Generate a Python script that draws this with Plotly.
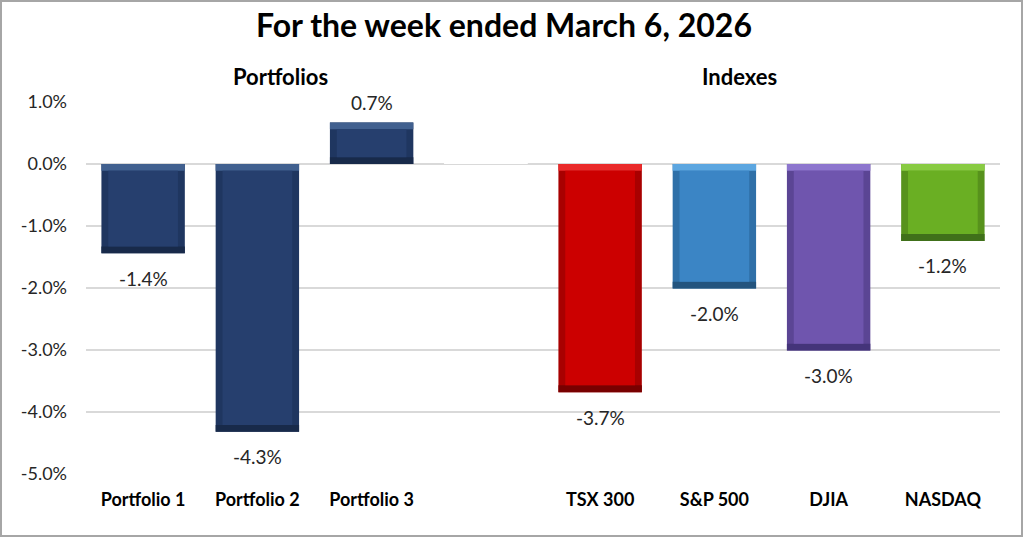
import numpy as np
import plotly.graph_objects as go

# weekly returns (%), blank slot separates the two groups
categories = ["Portfolio 1", "Portfolio 2", "Portfolio 3", " ", "TSX 300", "S&P 500", "DJIA", "NASDAQ"]
returns = [-1.44, -4.32, 0.67, None, -3.68, -2.01, -3.01, -1.24]
y_ticks = [1, 0, -1, -2, -3, -4, -5]

# bar face colours plus bevel shades (top / bottom / sides)
face_colors = ["#263F6E", "#263F6E", "#263F6E", "#FFFFFF", "#CC0000", "#3B85C5", "#6F55AE", "#6AAF23"]
top_colors = ["#41608F", "#41608F", "#41608F", "#FFFFFF", "#EA2A2A", "#5CA6E0", "#8D76CE", "#88CB42"]
bottom_colors = ["#182A4A", "#182A4A", "#182A4A", "#FFFFFF", "#780000", "#23547E", "#44347A", "#40701A"]
side_colors = ["#1F3660", "#1F3660", "#1F3660", "#FFFFFF", "#A80000", "#2F70A8", "#5B4594", "#57921C"]

FONT = "Lato"
BAR_W = 0.73
BEVEL_Y = 0.11   # in % units
BEVEL_X = 0.06   # in category units

vals = np.array([np.nan if v is None else v for v in returns])
upper = np.maximum(vals, 0)
lower = np.minimum(vals, 0)

fig = go.Figure()

# outer body (shows as the side bevels)
fig.add_trace(go.Bar(x=categories, y=vals, width=BAR_W,
                     marker=dict(color=side_colors, line=dict(width=0)),
                     hoverinfo="skip", showlegend=False))
# light strip at the upper end
fig.add_trace(go.Bar(x=categories, y=[BEVEL_Y] * len(vals), base=upper - BEVEL_Y, width=BAR_W,
                     marker=dict(color=top_colors, line=dict(width=0)),
                     hoverinfo="skip", showlegend=False))
# dark strip at the lower end
fig.add_trace(go.Bar(x=categories, y=[BEVEL_Y] * len(vals), base=lower, width=BAR_W,
                     marker=dict(color=bottom_colors, line=dict(width=0)),
                     hoverinfo="skip", showlegend=False))
# inner face
fig.add_trace(go.Bar(x=categories, y=(upper - lower) - 2 * BEVEL_Y, base=lower + BEVEL_Y,
                     width=BAR_W - 2 * BEVEL_X,
                     marker=dict(color=face_colors, line=dict(width=0)),
                     hoverinfo="skip", showlegend=False))

# data labels below negative bars, above positive ones
for cat, val in zip(categories, returns):
    if val is None:
        continue
    fig.add_annotation(
        x=cat, y=val, xref="x", yref="y",
        text=f"{val:.1f}%",
        showarrow=False,
        yanchor="middle",
        yshift=20 if val > 0 else -25,
        font=dict(family=FONT, size=19, color="#262626"),
    )

# group headings
fig.add_annotation(x=(280 - 86) / 914, y=1, xref="paper", yref="paper",
                   xanchor="center", yanchor="middle", yshift=26,
                   text="<b>Portfolios</b>", showarrow=False,
                   font=dict(family=FONT, size=22, color="#000000"))
fig.add_annotation(x=(739 - 86) / 914, y=1, xref="paper", yref="paper",
                   xanchor="center", yanchor="middle", yshift=26,
                   text="<b>Indexes</b>", showarrow=False,
                   font=dict(family=FONT, size=22, color="#000000"))

# outer frame
fig.add_shape(type="rect", xref="paper", yref="paper",
              x0=(1 - 86) / 914, x1=(1022 - 86) / 914,
              y0=(474 - 536) / 372, y1=(474 - 1) / 372,
              line=dict(color="#A6A6A6", width=2), fillcolor="rgba(0,0,0,0)", layer="below")

fig.update_layout(
    width=1024, height=538,
    margin=dict(l=86, r=24, t=102, b=64),
    title=dict(text="<b>For the week ended March 6, 2026</b>", x=(504) / 1024, xanchor="center",
               y=1 - 26 / 538, yanchor="middle", yref="container",
               font=dict(family=FONT, size=32, color="#000000")),
    plot_bgcolor="white",
    paper_bgcolor="white",
    barmode="overlay",
    xaxis=dict(
        type="category",
        categoryorder="array",
        categoryarray=categories,
        range=[-0.5, 7.5],
        showgrid=False, zeroline=False, showline=False,
        ticks="outside", ticklen=9, tickcolor="white",
        tickfont=dict(family=FONT, size=18, color="#000000", weight="bold"),
    ),
    yaxis=dict(
        range=[-5, 1],
        tickvals=y_ticks,
        ticktext=[f"{v:.1f}%" for v in y_ticks],
        showgrid=True, gridcolor="#D9D9D9", gridwidth=1.5,
        zeroline=True, zerolinecolor="#D9D9D9", zerolinewidth=1.5,
        showline=False,
        ticklabelstandoff=18,
        tickfont=dict(family=FONT, size=18, color="#262626"),
    ),
)

fig.write_html("out.html", config={"displayModeBar": False},
               post_script="document.body.style.margin='0';")
